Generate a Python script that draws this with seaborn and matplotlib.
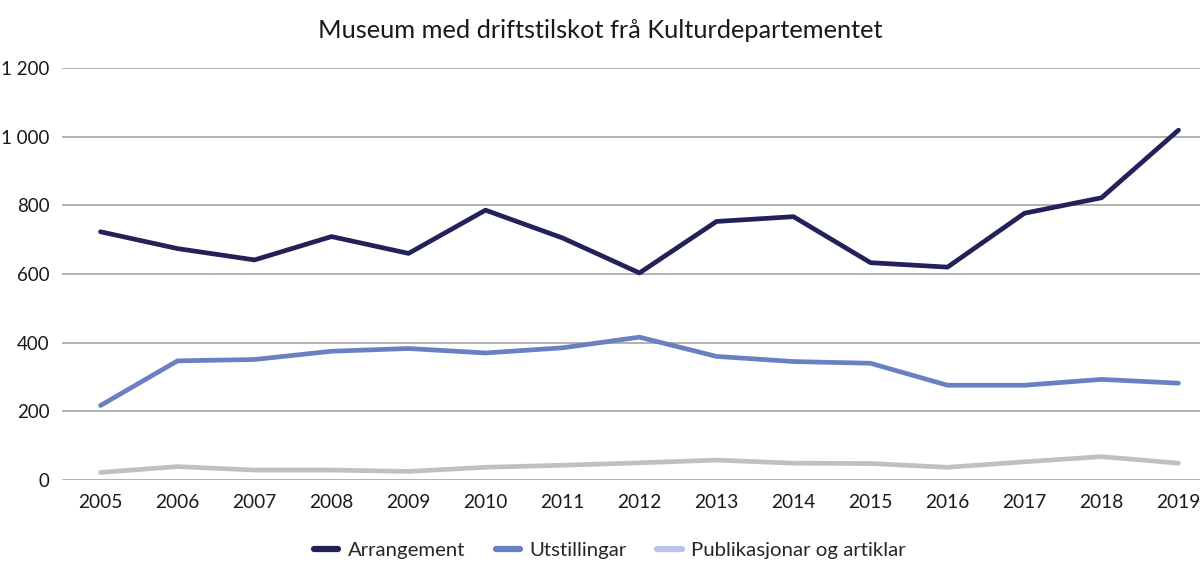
import pandas as pd
import matplotlib.pyplot as plt
from matplotlib.lines import Line2D
from matplotlib.ticker import FuncFormatter
import seaborn as sns

sns.set_theme(style="white")
plt.rcParams['font.family'] = ['Lato', 'DejaVu Sans']

years = list(range(2005, 2020))
arrangement = [723, 674, 641, 709, 660, 786, 705, 603, 753, 767, 633, 620, 777, 822, 1019]
utstillingar = [217, 347, 351, 375, 383, 370, 385, 416, 360, 345, 340, 276, 276, 293, 282]
publikasjonar = [22, 39, 29, 29, 25, 37, 43, 50, 58, 49, 48, 37, 53, 68, 49]

series = ["Arrangement", "Utstillingar", "Publikasjonar og artiklar"]
line_colors = ["#22215a", "#6b80c2", "#c0c0c0"]
legend_colors = ["#22215a", "#6b80c2", "#b8c4e8"]

df = pd.DataFrame({"År": years, series[0]: arrangement,
                   series[1]: utstillingar, series[2]: publikasjonar})
long = df.melt(id_vars="År", var_name="Serie", value_name="Tal")

fig = plt.figure(figsize=(12, 5.78), dpi=100)
ax = fig.add_axes([62/1200, 98/578, 1155/1200, 412/578])

sns.lineplot(data=long, x="År", y="Tal", hue="Serie", hue_order=series,
             palette=line_colors, linewidth=3.4, ax=ax, legend=False,
             solid_capstyle="round")

ax.set_xlim(2004.5, 2019.5)
ax.set_ylim(0, 1200)
ax.set_yticks(range(0, 1201, 200))
ax.set_xticks(years)
ax.yaxis.set_major_formatter(FuncFormatter(lambda v, p: f"{int(v):,}".replace(",", " ")))
ax.grid(axis="y", color="#9d9d9d", linewidth=1.1)
ax.set_axisbelow(True)
for s in ax.spines.values():
    s.set_visible(False)
ax.tick_params(axis="x", labelsize=13.8, colors="#1a1a1a", length=0, pad=10)
ax.tick_params(axis="y", labelsize=13.5, colors="#1a1a1a", length=0, pad=9)
ax.set_xlabel("")
ax.set_ylabel("")

fig.text(0.5, 1 - 30/578, "Museum med driftstilskot frå Kulturdepartementet",
         ha="center", va="center", fontsize=18.3, color="#1a1a1a")

handles = [Line2D([0], [0], color=c, linewidth=4.5, solid_capstyle="round") for c in legend_colors]
fig.legend(handles, series, loc="center", bbox_to_anchor=(0.508, 1 - 550/578),
           ncol=3, frameon=False, fontsize=14.7, handlelength=1.2,
           columnspacing=1.5, handletextpad=0.45)

fig.savefig("out.png", dpi=100)
